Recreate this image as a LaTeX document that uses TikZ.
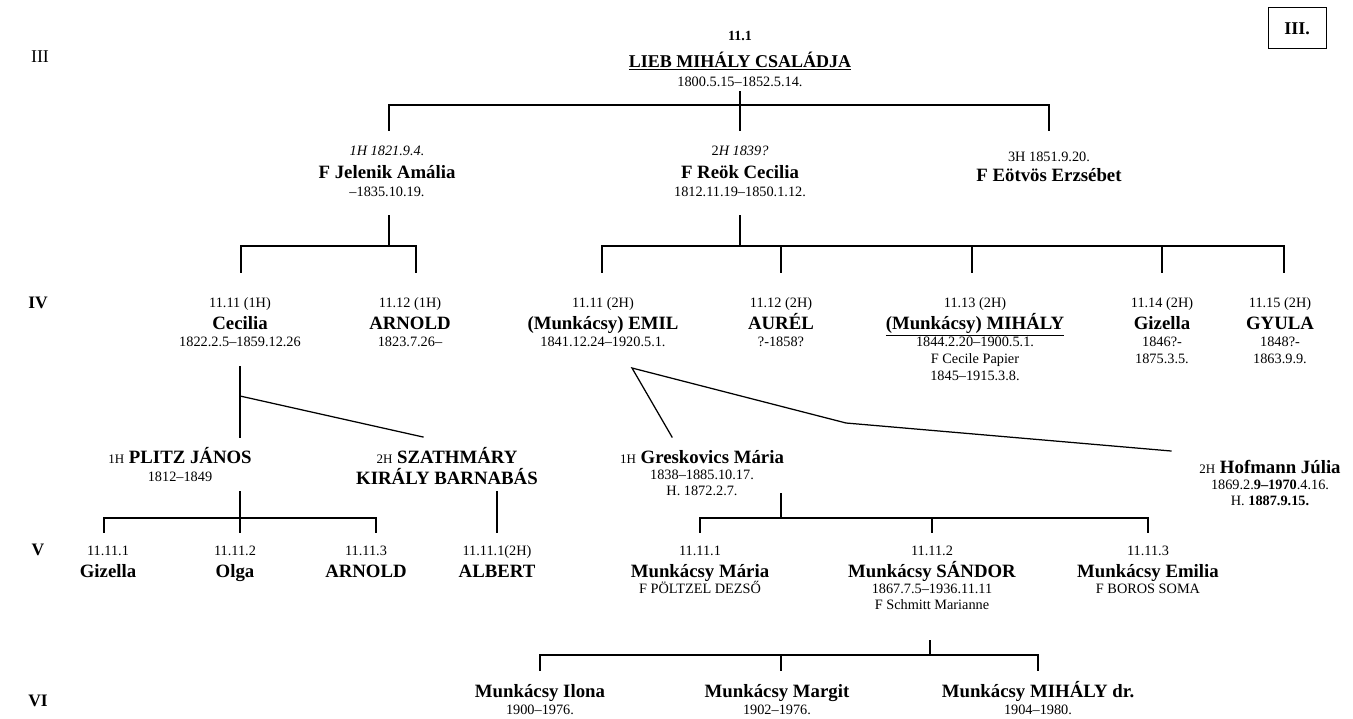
\documentclass[tikz,border=0pt]{standalone}
\usepackage{fontspec}
\setmainfont{Liberation Serif}
\newcommand{\pfx}[1]{{\fontsize{13}{14}\selectfont\mdseries #1}}
\begin{document}
\begin{tikzpicture}[x=1pt,y=-1pt,
  sm/.style={font=\fontsize{14.3}{16}\selectfont, anchor=base, inner sep=0pt},
  nm/.style={font=\fontsize{18.8}{21}\selectfont\bfseries, anchor=base, inner sep=0pt},
  rowlbl/.style={font=\fontsize{17.5}{20}\selectfont\bfseries, anchor=base, inner sep=0pt},
  ln/.style={line width=1.25pt, line cap=rect, line join=miter}]
\useasboundingbox (0,0) rectangle (1353,719);

% ---------- title and box
\node[sm, font=\fontsize{14}{16}\selectfont\bfseries] (tnum) at (740,41) {11.1};
\node[nm, font=\fontsize{18}{20}\selectfont\bfseries] (tname) at (740,68) {\underline{LIEB MIHÁLY CSALÁDJA}};
\node[sm] (tdate) at (740,87) {1800.5.15–1852.5.14.};
\node[draw, line width=1pt, minimum width=58pt, minimum height=41pt,
      font=\fontsize{18}{20}\selectfont\bfseries] (box) at (1297,28.5) {III.};

% ---------- row labels
\node[font=\fontsize{18}{20}\selectfont, anchor=base, inner sep=0pt] (r3) at (40,63) {III};
\node[rowlbl] (r4) at (38,309) {IV};
\node[rowlbl] (r5) at (38,555) {V};
\node[rowlbl] (r6) at (38,706) {VI};

% ---------- generation III spouses
\node[sm] (jeln) at (387,156) {\itshape 1H 1821.9.4.};
\node[nm] (jel) at (387,179) {F Jelenik Amália};
\node[sm] (jeld) at (387,197) {–1835.10.19.};
\node[sm] (reon) at (740,156) {2\textit{H 1839?}};
\node[nm] (reo) at (740,179) {F Reök Cecilia};
\node[sm] (reod) at (740,197) {1812.11.19–1850.1.12.};
\node[sm] (eotn) at (1049,162) {3H 1851.9.20.};
\node[nm] (eot) at (1049,182) {F Eötvös Erzsébet};

% ---------- generation IV
\node[sm] (cecn) at (240,308) {11.11 (1H)};
\node[nm] (cec) at (240,330) {Cecilia};
\node[sm] (cecd) at (240,347) {1822.2.5–1859.12.26};
\node[sm] (arnn) at (410,308) {11.12 (1H)};
\node[nm] (arn) at (410,330) {ARNOLD};
\node[sm] (arnd) at (410,347) {1823.7.26–};
\node[sm] (emin) at (603,308) {11.11 (2H)};
\node[nm] (emi) at (603,330) {(Munkácsy) EMIL};
\node[sm] (emid) at (603,347) {1841.12.24–1920.5.1.};
\node[sm] (aurn) at (781,308) {11.12 (2H)};
\node[nm] (aur) at (781,330) {AURÉL};
\node[sm] (aurd) at (781,347) {?-1858?};
\node[sm] (mihn) at (975,308) {11.13 (2H)};
\node[nm] (mih) at (975,330) {\underline{(Munkácsy) MIHÁLY}};
\node[sm] (mihd) at (975,347) {1844.2.20–1900.5.1.};
\node[sm] (mihf) at (975,364) {F Cecile Papier};
\node[sm] (mihg) at (975,381) {1845–1915.3.8.};
\node[sm] (gizn) at (1162,308) {11.14 (2H)};
\node[nm] (giz) at (1162,330) {Gizella};
\node[sm] (gizd) at (1162,347) {1846?-};
\node[sm] (gize) at (1162,364) {1875.3.5.};
\node[sm] (gyun) at (1280,308) {11.15 (2H)};
\node[nm] (gyu) at (1280,330) {GYULA};
\node[sm] (gyud) at (1280,347) {1848?-};
\node[sm] (gyue) at (1280,364) {1863.9.9.};

% ---------- spouses of generation IV
\node[nm] (pli) at (180,464) {\pfx{1H} PLITZ JÁNOS};
\node[sm] (plid) at (180,481) {1812–1849};
\node[nm] (sza) at (447,464) {\pfx{2H} SZATHMÁRY};
\node[nm] (szb) at (447,484) {KIRÁLY BARNABÁS};
\node[nm] (gre) at (702,463) {\pfx{1H} Greskovics Mária};
\node[sm] (gred) at (702,479) {1838–1885.10.17.};
\node[sm] (greh) at (702,495) {H. 1872.2.7.};
\node[nm] (hof) at (1270,473) {\pfx{2H} Hofmann Júlia};
\node[sm] (hofd) at (1270,489) {1869.2.\textbf{9–1970}.4.16.};
\node[sm] (hofh) at (1270,505) {H. \textbf{1887.9.15.}};

% ---------- generation V
\node[sm] (g1n) at (108,555) {11.11.1};
\node[nm] (g1) at (108,577) {Gizella};
\node[sm] (g2n) at (235,555) {11.11.2};
\node[nm] (g2) at (235,577) {Olga};
\node[sm] (g3n) at (366,555) {11.11.3};
\node[nm] (g3) at (366,577) {ARNOLD};
\node[sm] (albn) at (497,555) {11.11.1(2H)};
\node[nm] (alb) at (497,577) {ALBERT};
\node[sm] (marn) at (700,555) {11.11.1};
\node[nm] (mar) at (700,577) {Munkácsy Mária};
\node[sm] (marf) at (700,593) {F PÖLTZEL DEZSŐ};
\node[sm] (sann) at (932,555) {11.11.2};
\node[nm] (san) at (932,577) {Munkácsy SÁNDOR};
\node[sm] (sand) at (932,593) {1867.7.5–1936.11.11};
\node[sm] (sanf) at (932,609) {F Schmitt Marianne};
\node[sm] (emln) at (1148,555) {11.11.3};
\node[nm] (eml) at (1148,577) {Munkácsy Emilia};
\node[sm] (emlf) at (1148,593) {F BOROS SOMA};

% ---------- generation VI
\node[nm] (ilo) at (540,697) {Munkácsy Ilona};
\node[sm] (ilod) at (540,714) {1900–1976.};
\node[nm] (mrg) at (777,697) {Munkácsy Margit};
\node[sm] (mrgd) at (777,714) {1902–1976.};
\node[nm] (mdr) at (1038,697) {Munkácsy MIHÁLY dr.};
\node[sm] (mdrd) at (1038,714) {1904–1980.};

% ---------- junction points
\coordinate (a0) at (740,92);   \coordinate (a1) at (740,105);
\coordinate (aL) at (389,105);  \coordinate (aLd) at (389,130);
\coordinate (aR) at (1049,105); \coordinate (aRd) at (1049,130);
\coordinate (aMd) at (740,130);

\coordinate (j0) at (389,216);  \coordinate (j1) at (389,246);
\coordinate (jL) at (241,246);  \coordinate (jLd) at (241,272);
\coordinate (jR) at (416,246);  \coordinate (jRd) at (416,272);

\coordinate (r0) at (740,216);  \coordinate (r1) at (740,246);
\coordinate (rL) at (602,246);  \coordinate (rLd) at (602,272);
\coordinate (rR) at (1284,246); \coordinate (rRd) at (1284,272);
\coordinate (rA) at (781,246);  \coordinate (rAd) at (781,272);
\coordinate (rM) at (972,246);  \coordinate (rMd) at (972,272);
\coordinate (rG) at (1162,246); \coordinate (rGd) at (1162,272);

\coordinate (c0) at (240,367);  \coordinate (c1) at (240,396);
\coordinate (c2) at (240,437);  \coordinate (c3) at (423,437);

\coordinate (e0) at (632,368);  \coordinate (e1) at (672,437);
\coordinate (e2) at (846,423);  \coordinate (e3) at (1171,451);

\coordinate (p0) at (240,492);  \coordinate (p1) at (240,532);
\coordinate (pL) at (104,518);  \coordinate (pLd) at (104,532);
\coordinate (pR) at (376,518);  \coordinate (pRd) at (376,532);
\coordinate (s0) at (497,492);  \coordinate (s1) at (497,532);

\coordinate (g0) at (781,494);  \coordinate (g1) at (781,518);
\coordinate (gL) at (700,518);  \coordinate (gLd) at (700,532);
\coordinate (gR) at (1148,518); \coordinate (gRd) at (1148,532);
\coordinate (gM) at (932,518);  \coordinate (gMd) at (932,532);

\coordinate (k0) at (930,641);  \coordinate (k1) at (930,655);
\coordinate (kL) at (540,655);  \coordinate (kLd) at (540,670);
\coordinate (kR) at (1038,655); \coordinate (kRd) at (1038,670);
\coordinate (kM) at (781,655);  \coordinate (kMd) at (781,670);

% ---------- connectors
\draw[ln] (a0) -- (aMd);
\draw[ln] (aLd) -- (aL) -- (aR) -- (aRd);

\draw[ln] (j0) -- (j1);
\draw[ln] (jLd) -- (jL) -- (jR) -- (jRd);

\draw[ln] (r0) -- (r1);
\draw[ln] (rLd) -- (rL) -- (rR) -- (rRd);
\draw[ln] (rA) -- (rAd);
\draw[ln] (rM) -- (rMd);
\draw[ln] (rG) -- (rGd);

\draw[ln] (c0) -- (c2);
\draw[ln] (c1) -- (c3);

\draw[ln] (e1) -- (e0) -- (e2) -- (e3);

\draw[ln] (p0) -- (p1);
\draw[ln] (pLd) -- (pL) -- (pR) -- (pRd);
\draw[ln] (s0) -- (s1);

\draw[ln] (g0) -- (g1);
\draw[ln] (gLd) -- (gL) -- (gR) -- (gRd);
\draw[ln] (gM) -- (gMd);

\draw[ln] (k0) -- (k1);
\draw[ln] (kLd) -- (kL) -- (kR) -- (kRd);
\draw[ln] (kM) -- (kMd);
\end{tikzpicture}
\end{document}
